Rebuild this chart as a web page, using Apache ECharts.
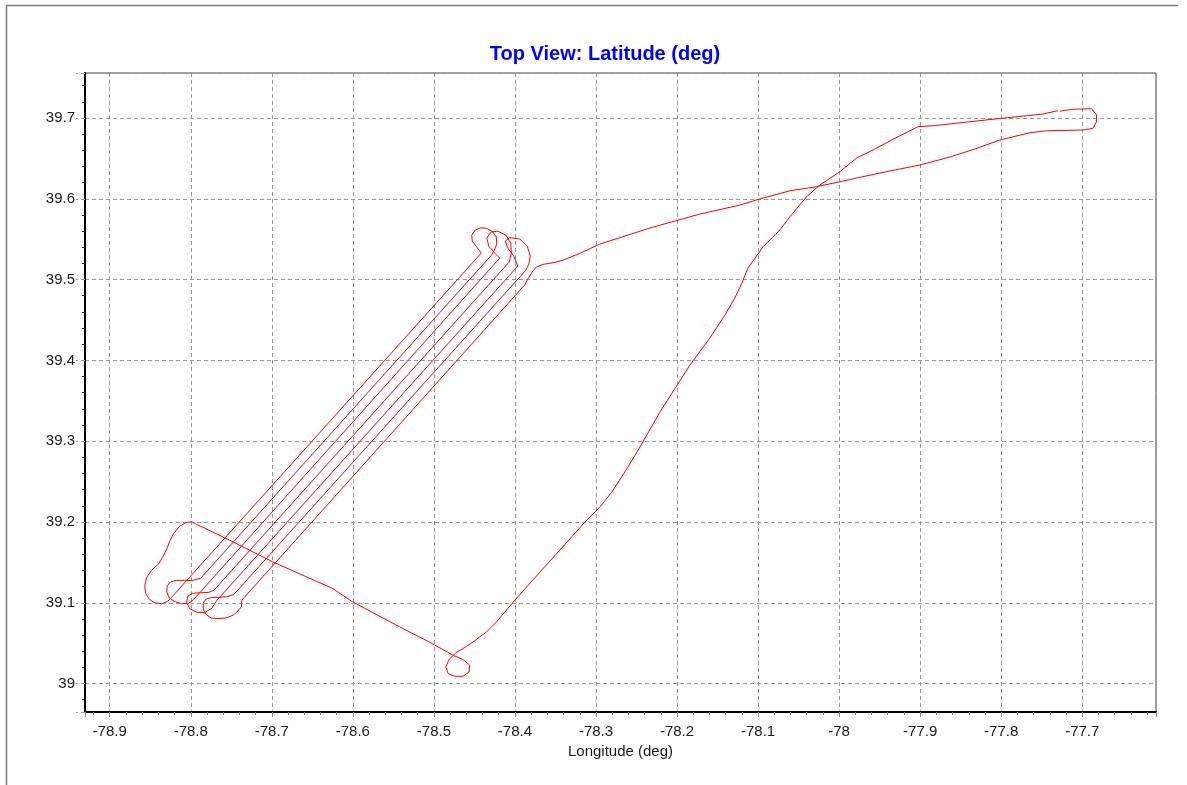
<!DOCTYPE html>
<html>
<head>
<meta charset="utf-8">
<script src="https://cdn.jsdelivr.net/npm/echarts@6/dist/echarts.min.js"></script>
<style>
html,body{margin:0;padding:0;background:#fff;}
#chart{width:1187px;height:785px;}
</style>
</head>
<body>
<div id="chart"></div>
<script>
// Flight track (longitude, latitude in degrees)
// East turnaround and return leg westwards
const eastLon = [-77.7276,-77.7128,-77.7005,-77.6885,-77.6823,-77.6826,-77.6869,-77.6992,-77.7440,-77.7646,-77.8017,-77.8325,-77.8634,-77.9004,-77.9497,-77.9991,-78.0279,-78.0608,-78.0999,-78.1225,-78.1719,-78.2336,-78.2953,-78.3200,-78.3406,-78.3508,-78.3653,-78.3734,-78.3780,-78.3841];
const eastLat = [39.7084,39.7107,39.7111,39.7115,39.7037,39.6950,39.6872,39.6851,39.6842,39.6818,39.6727,39.6616,39.6517,39.6418,39.6319,39.6211,39.6149,39.6099,39.5993,39.5922,39.5811,39.5638,39.5439,39.5324,39.5241,39.5213,39.5188,39.5158,39.5105,39.5006];
// Survey pattern: parallel legs with turns at both ends
const surveyLon = [-78.3881,-78.7371,
  -78.7375,-78.7433,-78.7478,-78.7568,-78.7667,-78.7745,-78.7809,-78.7846,-78.7846,-78.7815,-78.7741,-78.7642,-78.7556,-78.7470,
  -78.3864,-78.3829,-78.3811,-78.3848,-78.3940,-78.4064,-78.4119,-78.4088,-78.4014,-78.3965,
  -78.7677,-78.7741,-78.7828,-78.7926,-78.8013,-78.8050,-78.8037,-78.7976,-78.7877,-78.7778,-78.7714,
  -78.4071,-78.4045,-78.4051,-78.4113,-78.4212,-78.4298,-78.4347,-78.4323,-78.4261,-78.4187,
  -78.7973,-78.8025,-78.8111,-78.8198,-78.8266,-78.8297,-78.8290,-78.8247,-78.8173,-78.8074,-78.7988,-78.7877,
  -78.4289,-78.4255,-78.4224,-78.4230,-78.4273,-78.4347,-78.4421,-78.4489,-78.4533,-78.4526,-78.4471,-78.4415,
  -78.8225];
const surveyLat = [39.4932,39.1031,
  39.0948,39.0883,39.0846,39.0811,39.0805,39.0811,39.0852,39.0920,39.0994,39.1044,39.1065,39.1069,39.1075,39.1100,
  39.5117,39.5192,39.5291,39.5415,39.5501,39.5520,39.5477,39.5390,39.5291,39.5167,
  39.1031,39.0932,39.0877,39.0883,39.0926,39.1007,39.1081,39.1118,39.1124,39.1128,39.1155,
  39.5217,39.5328,39.5452,39.5551,39.5600,39.5588,39.5514,39.5415,39.5340,39.5266,
  39.1031,39.0994,39.0988,39.1013,39.1062,39.1137,39.1211,39.1260,39.1277,39.1279,39.1275,39.1304,
  39.5303,39.5365,39.5439,39.5526,39.5592,39.5634,39.5641,39.5613,39.5551,39.5477,39.5402,39.5328,
  39.1081];
// West loop and south-east transit
const westLon = [-78.8284,-78.8358,-78.8445,-78.8513,-78.8556,-78.8568,-78.8543,-78.8482,-78.8395,-78.8346,-78.8297,-78.8260,-78.8210,-78.8136,-78.8062,-78.7994,
  -78.7519,-78.6988,-78.6248,-78.6001,-78.5421,-78.5051,-78.4763];
const westLat = [39.1019,39.0988,39.1000,39.1044,39.1118,39.1217,39.1316,39.1403,39.1483,39.1564,39.1663,39.1762,39.1861,39.1948,39.1991,39.2003,
  39.1774,39.1506,39.1176,39.1010,39.0701,39.0511,39.0350];
// South loop and climb back to the north-east
const northLon = [-78.4640,-78.4557,-78.4566,-78.4640,-78.4742,-78.4825,-78.4853,-78.4813,-78.4730,-78.4640,
  -78.4516,-78.4351,-78.4228,-78.4002,-78.3693,-78.3447,-78.3138,-78.2953,-78.2805,-78.2607,-78.2459,-78.2212,-78.1842,-78.1595,-78.1410,-78.1287,-78.1200,-78.1126,-78.1040,-78.0938,-78.0732,-78.0608,-78.0402,-78.0238,-77.9991,-77.9785,-77.9584,-77.9353,-77.9025,-77.8843,-77.7996,-77.7486,-77.7301];
const northLat = [39.0297,39.0227,39.0144,39.0090,39.0090,39.0124,39.0206,39.0297,39.0381,39.0433,
  39.0515,39.0639,39.0763,39.1031,39.1378,39.1651,39.1997,39.2183,39.2369,39.2678,39.2926,39.3359,39.3941,39.4276,39.4560,39.4771,39.4957,39.5142,39.5262,39.5406,39.5613,39.5777,39.6025,39.6170,39.6335,39.6504,39.6603,39.6727,39.6892,39.6904,39.6996,39.7049,39.7090];

const xMin = -78.9305, xMax = -77.609;
const yMin = 38.9648, yMax = 39.7557;

const lon = eastLon.concat(surveyLon, westLon, northLon);
const lat = eastLat.concat(surveyLat, westLat, northLat);
const track = lon.map((v, i) => [v, lat[i]]);

const chart = echarts.init(document.getElementById('chart'), null, {renderer: 'canvas'});
const FONT = 'Liberation Sans, Arial, sans-serif';
const labelFont = {color: '#1a1a1a', fontSize: 15, fontFamily: FONT};
chart.setOption({
  animation: false,
  backgroundColor: '#fff',
  title: {
    text: 'Top View: Latitude (deg)',
    left: 600, top: 39, textAlign: 'center',
    textStyle: {color: '#0000ff', fontSize: 20, fontWeight: 'bold', fontFamily: FONT}
  },
  graphic: [
    {type: 'line', shape: {x1: 6, y1: 5.5, x2: 1178, y2: 5.5}, style: {stroke: '#7a7a7a', lineWidth: 1.5}, silent: true},
    {type: 'line', shape: {x1: 6.5, y1: 5, x2: 6.5, y2: 785}, style: {stroke: '#7a7a7a', lineWidth: 1.5}, silent: true}
  ],
  grid: {left: 85, top: 73, right: 31, bottom: 73, show: true, borderColor: '#444', borderWidth: 1, backgroundColor: '#fff'},
  xAxis: {
    type: 'value', min: xMin, max: xMax, splitNumber: 13, minInterval: 0.1, maxInterval: 0.1,
    name: 'Longitude (deg)', nameLocation: 'middle', nameGap: 31,
    nameTextStyle: {color: '#1a1a1a', fontSize: 15, fontFamily: FONT},
    axisLine: {show: true, onZero: false, lineStyle: {color: '#000', width: 2}},
    axisTick: {show: true, length: 5, lineStyle: {color: '#888'}},
    minorTick: {show: true, splitNumber: 5, length: 3, lineStyle: {color: '#777'}},
    axisLabel: Object.assign({margin: 12, showMinLabel: false, showMaxLabel: false}, labelFont),
    splitLine: {show: true, lineStyle: {color: '#999', type: [4, 3], width: 1}}
  },
  yAxis: {
    type: 'value', min: yMin, max: yMax, splitNumber: 8, minInterval: 0.1, maxInterval: 0.1,
    axisLine: {show: true, onZero: false, lineStyle: {color: '#000', width: 2}},
    axisTick: {show: true, length: 9, lineStyle: {color: '#999', type: [4, 3]}},
    minorTick: {show: true, splitNumber: 5, length: 3, lineStyle: {color: '#333'}},
    axisLabel: Object.assign({margin: 10, showMinLabel: false, showMaxLabel: false}, labelFont),
    splitLine: {show: true, lineStyle: {color: '#999', type: [4, 3], width: 1}}
  },
  series: [{
    type: 'line', data: track, showSymbol: false, symbol: 'none',
    lineStyle: {color: '#ff0000', width: 1}, smooth: false, z: 5
  }]
});
</script>
</body>
</html>
